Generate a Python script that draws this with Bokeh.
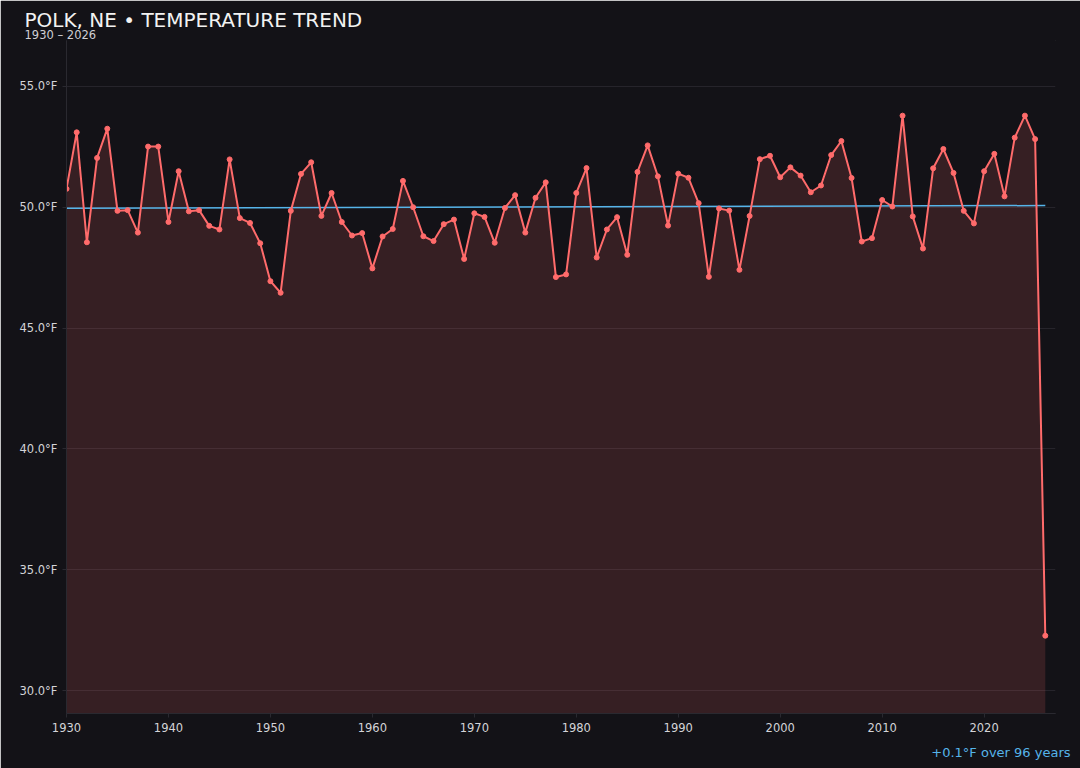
from bokeh.plotting import figure
from bokeh.models import PrintfTickFormatter, SingleIntervalTicker, Range1d, Title
from bokeh.embed import file_html
from bokeh.resources import INLINE

years = list(range(1930, 2027))
temps = [
    50.76, 53.10, 48.55, 52.04, 53.25, 49.85, 49.88, 48.95, 52.51, 52.51,  # 1930s
    49.39, 51.49, 49.83, 49.88, 49.23, 49.08, 51.98, 49.55, 49.35, 48.51,  # 1940s
    46.94, 46.46, 49.85, 51.38, 51.86, 49.64, 50.59, 49.39, 48.83, 48.93,  # 1950s
    47.47, 48.79, 49.10, 51.09, 50.00, 48.80, 48.60, 49.30, 49.49, 47.86,  # 1960s
    49.75, 49.60, 48.53, 49.97, 50.50, 48.95, 50.39, 51.03, 47.11, 47.22,  # 1970s
    50.59, 51.62, 47.92, 49.08, 49.59, 48.03, 51.46, 52.56, 51.28, 49.24,  # 1980s
    51.39, 51.22, 50.17, 47.12, 49.95, 49.86, 47.41, 49.64, 51.99, 52.13,  # 1990s
    51.24, 51.65, 51.31, 50.62, 50.90, 52.16, 52.74, 51.21, 48.58, 48.72,  # 2000s
    50.30, 50.03, 53.79, 49.62, 48.29, 51.61, 52.41, 51.42, 49.85, 49.33,  # 2010s
    51.49, 52.21, 50.45, 52.88, 53.79, 52.82, 32.27,                        # 2020s
]
trend_years = [1930, 2026]
trend_values = [49.96, 50.07]
y_ticks_interval = 5
title_text = "POLK, NE • TEMPERATURE TREND"
subtitle_text = "1930 – 2026"
note_text = "+0.1°F over 96 years"

BG = "#131217"
LINE = "#ff6b6b"
BLUE = "#56b4e9"
FONT = "DejaVu Sans"

y_lo, y_hi = 29.05, 56.9
p = figure(width=1080, height=768, output_backend="svg", toolbar_location=None, title=None,
           x_range=Range1d(1930, 2027), y_range=Range1d(y_lo, y_hi),
           min_border_left=66, min_border_right=25, min_border_top=40, min_border_bottom=55)
p.background_fill_color = BG
p.border_fill_color = BG
p.outline_line_color = BG
p.outline_line_alpha = 1.0

p.varea(x=years, y1=[y_lo] * len(years), y2=temps, fill_color=LINE, fill_alpha=0.15)
p.line(trend_years, trend_values, line_color=BLUE, line_width=1.5)
p.line(years, temps, line_color=LINE, line_width=2)
p.scatter(years, temps, size=5, fill_color=LINE, line_color=LINE)

p.xgrid.grid_line_color = None
p.ygrid.grid_line_color = "#26242b"
p.ygrid.grid_line_width = 1

p.yaxis.ticker = SingleIntervalTicker(interval=y_ticks_interval)
p.yaxis.formatter = PrintfTickFormatter(format="%.1f°F")
p.xaxis.ticker = SingleIntervalTicker(interval=10)
for ax in (p.xaxis, p.yaxis):
    ax.axis_line_color = "#2a2930"
    ax.major_tick_line_color = "#2a2930"
    ax.minor_tick_line_color = None
    ax.major_tick_out = 4
    ax.major_tick_in = 0
    ax.major_label_text_color = "#d4d4d8"
    ax.major_label_text_font = FONT
    ax.major_label_text_font_size = "11.5px"

sub = Title(text=subtitle_text, align="left", offset=-42, standoff=-2,
            text_font=FONT, text_font_size="11.5px", text_color="#cfcfd4",
            text_font_style="normal")
main = Title(text=title_text, align="left", offset=-42, standoff=-10,
             text_font=FONT, text_font_size="20px", text_color="#f2f2f2",
             text_font_style="normal")
p.add_layout(sub, "above")
p.add_layout(main, "above")

note = Title(text=note_text, align="right", offset=-15, standoff=16,
             text_font=FONT, text_font_size="13px", text_color=BLUE,
             text_font_style="normal")
p.add_layout(note, "below")

open("out.html", "w").write(file_html(p, INLINE))
